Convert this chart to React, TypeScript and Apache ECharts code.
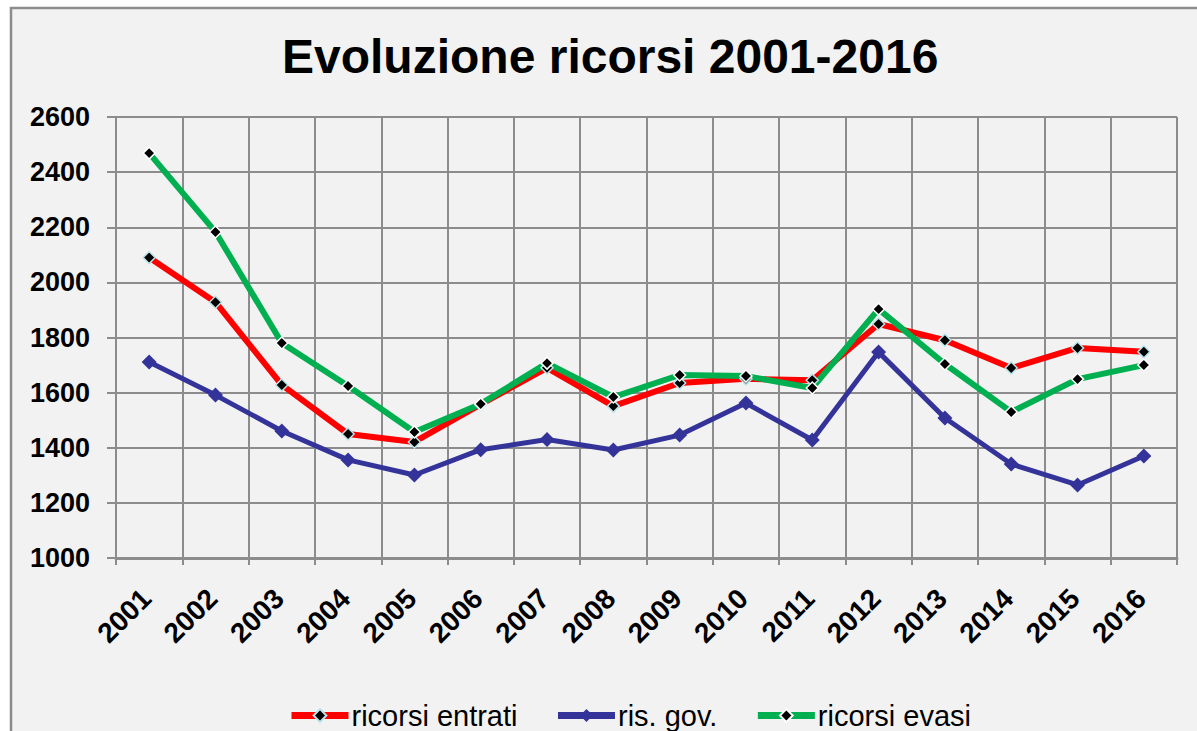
import React, { useEffect, useRef } from "react";
import * as echarts from "echarts";

const years = ["2001","2002","2003","2004","2005","2006","2007","2008","2009","2010","2011","2012","2013","2014","2015","2016"];
const ricorsiEntrati = [2090, 1928, 1628, 1450, 1421, 1557, 1690, 1551, 1635, 1650, 1645, 1849, 1790, 1689, 1762, 1748];
const risGov = [1711, 1591, 1461, 1356, 1301, 1393, 1430, 1392, 1446, 1562, 1428, 1747, 1508, 1341, 1265, 1370];
const ricorsiEvasi = [2469, 2183, 1780, 1624, 1457, 1559, 1707, 1584, 1664, 1660, 1617, 1903, 1704, 1530, 1649, 1700];

const FONT = "Liberation Sans, Arial, sans-serif";
const GRID_COLOR = "#8c8c8c";

export default function App() {
  const ref = useRef<HTMLDivElement>(null);
  useEffect(() => {
    document.body.style.margin = "0";
    const chart = echarts.init(ref.current!, null, { renderer: "svg" });
    chart.setOption({
      animation: false,
      backgroundColor: "#ffffff",
      textStyle: { fontFamily: FONT },
      graphic: [
        {
          type: "rect",
          z: -10,
          silent: true,
          shape: { x: 11, y: 8, width: 1200, height: 800 },
          style: { fill: "#f2f2f2", stroke: GRID_COLOR, lineWidth: 2.5 },
        },
      ],
      title: {
        text: "Evoluzione ricorsi 2001-2016",
        left: 277,
        top: 27,
        textStyle: { fontFamily: FONT, fontSize: 48, fontWeight: "bold", color: "#000" },
      },
      legend: {
        left: 288,
        top: 701,
        itemWidth: 57,
        itemHeight: 16,
        itemGap: 37,
        padding: 0,
        lineStyle: { width: 7 },
        textStyle: { fontFamily: FONT, fontSize: 29, color: "#000", padding: [0, 0, 0, -2] },
        data: ["ricorsi entrati", "ris. gov.", "ricorsi evasi"],
      },
      grid: { left: 116, top: 117, right: 20, bottom: 173 },
      xAxis: {
        type: "category",
        data: years,
        boundaryGap: true,
        axisLine: { show: true, lineStyle: { color: GRID_COLOR, width: 3 } },
        axisTick: { show: true, length: 7, lineStyle: { color: GRID_COLOR, width: 2 } },
        splitLine: { show: true, lineStyle: { color: GRID_COLOR, width: 2 } },
        axisLabel: {
          rotate: 45,
          margin: 33,
          interval: 0,
          formatter: "{a|{value}}",
          rich: {
            a: {
              fontFamily: FONT,
              fontSize: 28,
              fontWeight: "bold",
              color: "#000",
              padding: [0, 4, 0, 0],
            },
          },
        },
      },
      yAxis: {
        type: "value",
        min: 1000,
        max: 2600,
        interval: 200,
        axisLine: { show: true, lineStyle: { color: GRID_COLOR, width: 2 } },
        axisTick: { show: true, length: 9, lineStyle: { color: GRID_COLOR, width: 2 } },
        splitLine: { show: true, lineStyle: { color: GRID_COLOR, width: 2 } },
        axisLabel: {
          margin: 26,
          formatter: (v: number) => String(v),
          fontFamily: FONT,
          fontSize: 27,
          fontWeight: "bold",
          color: "#000",
        },
      },
      series: [
        {
          name: "ricorsi entrati",
          type: "line",
          data: ricorsiEntrati,
          symbol: "diamond",
          symbolSize: 12,
          lineStyle: { color: "#ff0000", width: 6 },
          itemStyle: { color: "#000000", borderColor: "#b9e3e8", borderWidth: 1.5 },
        },
        {
          name: "ris. gov.",
          type: "line",
          data: risGov,
          symbol: "diamond",
          symbolSize: 15,
          lineStyle: { color: "#333399", width: 5 },
          itemStyle: { color: "#333399" },
        },
        {
          name: "ricorsi evasi",
          type: "line",
          data: ricorsiEvasi,
          symbol: "diamond",
          symbolSize: 12,
          lineStyle: { color: "#00b050", width: 6 },
          itemStyle: { color: "#000000", borderColor: "#ffffff", borderWidth: 1.5 },
        },
      ],
    });
    return () => chart.dispose();
  }, []);
  return <div ref={ref} style={{ width: 1197, height: 731 }} />;
}
